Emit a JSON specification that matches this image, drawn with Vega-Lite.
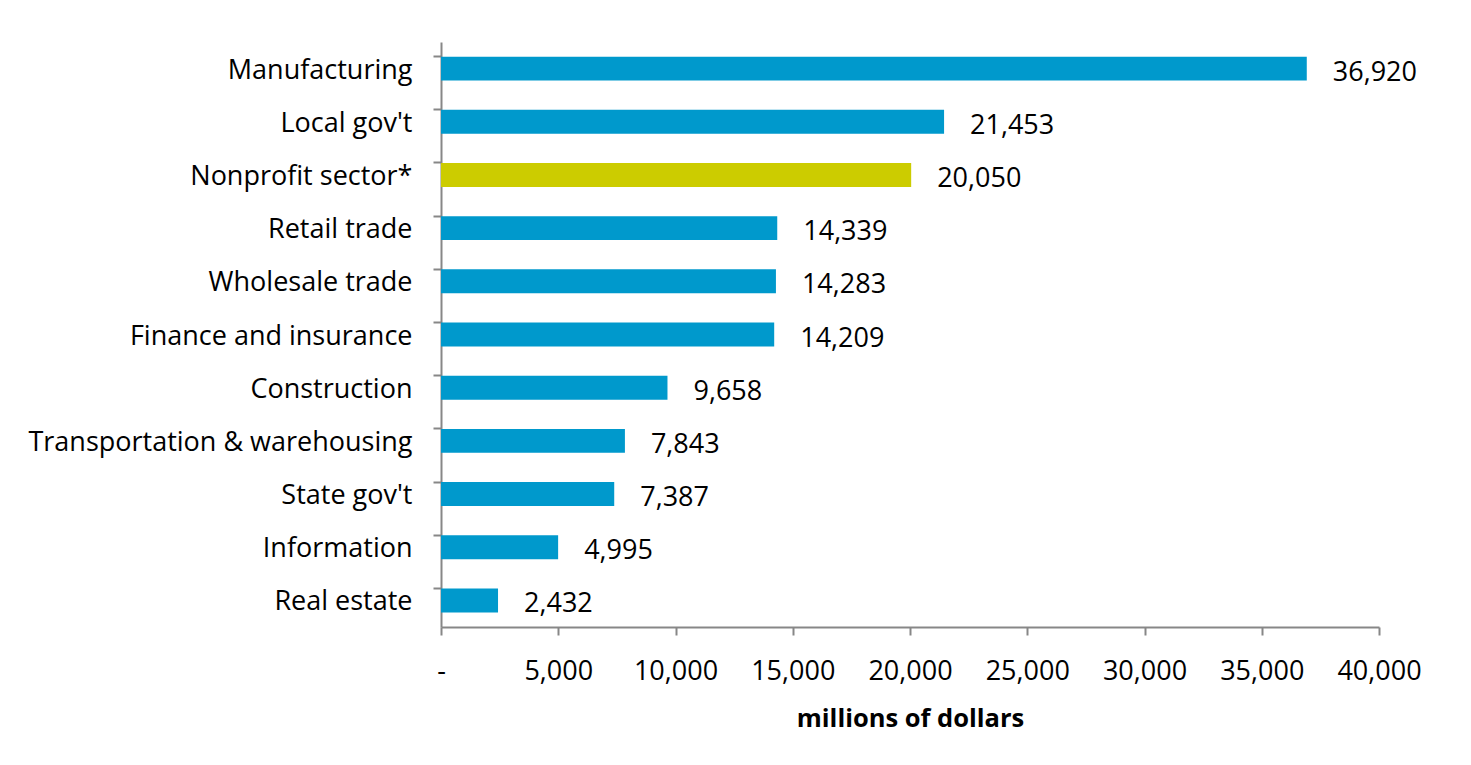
{
  "$schema": "https://vega.github.io/schema/vega-lite/v6.json",
  "width": 938,
  "height": 585,
  "autosize": {"type": "none"},
  "padding": {"left": 441, "top": 42, "right": 92, "bottom": 138},
  "background": "white",
  "config": {
    "view": {"stroke": null},
    "font": "Open Sans",
    "axis": {"grid": false, "domainColor": "#878787", "tickColor": "#878787", "domainWidth": 2, "tickWidth": 2, "tickSize": 8, "labelColor": "#000000", "labelFont": "Open Sans", "labelFontSize": 27}
  },
  "data": {
    "values": [
      {"industry": "Manufacturing", "value": 36920},
      {"industry": "Local gov't", "value": 21453},
      {"industry": "Nonprofit sector*", "value": 20050},
      {"industry": "Retail trade", "value": 14339},
      {"industry": "Wholesale trade", "value": 14283},
      {"industry": "Finance and insurance", "value": 14209},
      {"industry": "Construction", "value": 9658},
      {"industry": "Transportation & warehousing", "value": 7843},
      {"industry": "State gov't", "value": 7387},
      {"industry": "Information", "value": 4995},
      {"industry": "Real estate", "value": 2432}
    ]
  },
  "encoding": {
    "y": {
      "field": "industry", "type": "nominal", "sort": null,
      "scale": {"paddingInner": 0.55, "paddingOuter": 0.275},
      "axis": {"title": null, "bandPosition": 0, "labelPadding": 21, "labelLimit": 600, "labelOffset": 2}
    },
    "x": {
      "field": "value", "type": "quantitative",
      "scale": {"domain": [0, 40000], "nice": false},
      "axis": {
        "values": [0, 5000, 10000, 15000, 20000, 25000, 30000, 35000, 40000],
        "labelExpr": "datum.value == 0 ? '-' : format(datum.value, ',')",
        "labelOverlap": false,
        "labelFlush": false,
        "labelPadding": 23,
        "title": "millions of dollars",
        "titleFont": "Open Sans", "titleFontSize": 25.5, "titleFontWeight": "bold", "titleColor": "#000000",
        "titlePadding": 22
      }
    }
  },
  "layer": [
    {
      "mark": {"type": "bar"},
      "encoding": {
        "color": {
          "condition": {"test": "datum.industry == 'Nonprofit sector*'", "value": "#CCCC00"},
          "value": "#0099CC"
        }
      }
    },
    {
      "mark": {"type": "text", "align": "left", "baseline": "middle", "dx": 26, "dy": 4, "fontSize": 27, "font": "Open Sans", "color": "#000000"},
      "encoding": {"text": {"field": "value", "type": "quantitative", "format": ","}}
    }
  ]
}
